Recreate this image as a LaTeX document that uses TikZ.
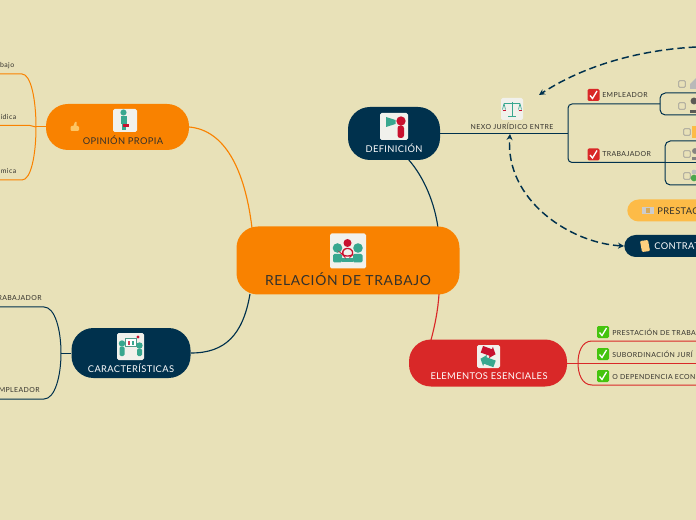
\documentclass[tikz,border=0pt]{standalone}
\usepackage{fontspec}
\setmainfont{Lato}
\usetikzlibrary{arrows.meta}
\definecolor{bgc}{HTML}{E8E1B8}
\definecolor{navy}{HTML}{00314D}
\definecolor{orng}{HTML}{F98200}
\definecolor{redc}{HTML}{D92828}
\definecolor{yelc}{HTML}{FDBB47}
\definecolor{txt}{HTML}{33312C}
\definecolor{teal1}{HTML}{38A78F}
\definecolor{crim}{HTML}{C8102E}
\definecolor{iconbg}{HTML}{F1F1EC}
\definecolor{grn}{HTML}{45C40E}
\tikzset{
  x=0.75pt,y=-0.75pt,
  topic/.style={rounded corners=#1,inner sep=0pt},
  lab/.style={font=\fontsize{7}{8}\selectfont\addfontfeature{LetterSpace=4},text=txt,inner sep=0pt},
  lab2/.style={font=\fontsize{5.2}{6}\selectfont\addfontfeature{LetterSpace=6},text=txt,inner sep=0pt},
  mainlab/.style={font=\fontsize{10.4}{12}\selectfont\addfontfeature{LetterSpace=5},text=txt,inner sep=0pt},
  link/.style={line width=0.85pt},
  sublink/.style={line width=0.75pt},
  iconbox/.style={fill=iconbg,rounded corners=1.2pt,draw=none},
  chk/.style={draw=txt!50,fill=bgc,line width=0.55pt,rounded corners=0.8pt},
  dashlink/.style={navy,line width=1.1pt,dash pattern=on 5.5pt off 3pt,{Stealth[length=4.5pt,width=4.5pt]}-{Stealth[length=4.5pt,width=4.5pt]}},
  dashone/.style={navy,line width=1.1pt,dash pattern=on 5.5pt off 3pt,-{Stealth[length=4.5pt,width=4.5pt]}},
}
\newcommand{\rtick}[2]{\fill[redc,rounded corners=1pt] (#1-6,#2-6) rectangle (#1+6,#2+6);
 \draw[white,line width=1pt] (#1-3.5,#2+0.5)--(#1-1,#2+3.5)--(#1+3.5,#2-4);}
\newcommand{\gtick}[2]{\fill[grn,rounded corners=1pt] (#1-6,#2-6) rectangle (#1+6,#2+6);
 \draw[white,line width=1pt] (#1-3.5,#2+0.5)--(#1-1,#2+3.5)--(#1+3.5,#2-4);}
\newcommand{\cbx}[2]{\draw[chk] (#1-3.3,#2-3.3) rectangle (#1+3.3,#2+3.3);}
\begin{document}
\begin{tikzpicture}
\useasboundingbox (0,0) rectangle (696,520);
\clip (0,0) rectangle (696,520);
\fill[bgc] (0,0) rectangle (696,520);

% named anchors
\coordinate (cL) at (252,228);
\coordinate (cLb) at (250,294);
\coordinate (cR) at (438,228);
\coordinate (cRb) at (439,294);
\coordinate (opR) at (189,127);
\coordinate (caR) at (191,353);
\coordinate (defB) at (408,159);
\coordinate (eleT) at (431,340);

% main links
\draw[link,orng] (opR) .. controls (225,130) and (245,170) .. (cL);
\draw[link,navy] (caR) .. controls (225,353) and (243,335) .. (cLb);
\draw[link,navy] (defB) .. controls (425,178) and (435,205) .. (cR);
\draw[link,redc] (eleT) .. controls (435,325) and (438,310) .. (cRb);

% nodes
\node[topic=16pt,fill=orng,minimum width=167.25pt,minimum height=51pt] (central) at (348,260.5) {};
\node[topic=16.5pt,fill=orng,minimum width=107.25pt,minimum height=34.5pt] (opinion) at (117.5,127) {};
\node[topic=16.5pt,fill=navy,minimum width=89.25pt,minimum height=37.5pt] (caract) at (131,353) {};
\node[topic=16.5pt,fill=navy,minimum width=69pt,minimum height=39.75pt] (defin) at (394,133.5) {};
\node[topic=16.5pt,fill=redc,minimum width=118.5pt,minimum height=35.25pt] (elem) at (488,363) {};
\node[topic=8.5pt,fill=yelc,minimum width=72pt,minimum height=16.5pt,anchor=west] (prest) at (627,210.5) {};
\node[topic=8.5pt,fill=navy,minimum width=72pt,minimum height=16.5pt,anchor=west] (contr) at (624,246) {};

% labels
\node[mainlab] at (348,279) {RELACIÓN DE TRABAJO};
\node[lab] at (123,140) {OPINIÓN PROPIA};
\node[lab,text=white] at (131,368) {CARACTERÍSTICAS};
\node[lab,text=white] at (394,148.5) {DEFINICIÓN};
\node[lab,text=white] at (489,376) {ELEMENTOS ESENCIALES};
\node[lab,anchor=west] at (657,211) {PRESTAC};
\node[lab,anchor=west,text=white] at (654,246) {CONTRAT};

% opinion bracket
\draw[sublink,orng] (opinion.west) -- (36,127);
\draw[sublink,orng] (0,74) -- (22,74) .. controls (31,74) and (36,100) .. (36,127) .. controls (36,155) and (31,180) .. (22,180) -- (0,180);
\draw[sublink,orng] (0,125.5) -- (30,125.5) -- (36,127);
\node[lab2,anchor=east] at (14.5,65.5) {bajo};
\node[lab2,anchor=east] at (16.5,116.5) {rídica};
\node[lab2,anchor=east] at (16.5,171.5) {mica};
% caract bracket
\draw[sublink,navy] (caract.west) -- (61,353);
\draw[sublink,navy] (0,307) -- (44,307) .. controls (55,307) and (61,330) .. (61,353) .. controls (61,376) and (55,399) .. (44,399) -- (0,399);
\node[lab2,anchor=east] at (42,298.5) {RABAJADOR};
\node[lab2,anchor=east] at (40,390.5) {MPLEADOR};

% definition branch
\draw[sublink,navy] (defin.east) -- (568,133.5);
\draw[sublink,navy,rounded corners=3pt] (660,104) -- (568,104) -- (568,162.5) -- (665,162.5);
\draw[sublink,navy,rounded corners=4pt] (696,93) -- (660,93) -- (660,115) -- (696,115);
\draw[sublink,navy,rounded corners=4pt] (696,141) -- (665,141) -- (665,185) -- (696,185);
\draw[sublink,navy] (665,162.5) -- (696,162.5);
\node[lab2] at (512,126.5) {NEXO JURÍDICO ENTRE};
\node[lab2,anchor=west] at (602,95.5) {EMPLEADOR};
\node[lab2,anchor=west] at (602,154.5) {TRABAJADOR};
\rtick{593.5}{95}
\rtick{593.5}{154.5}
\cbx{682}{84}\cbx{682}{106}\cbx{687}{132}\cbx{687}{154}\cbx{687}{176}

% small right icons
\fill[gray!55!white] (690,84) -- (696,78) -- (696,89) -- (690,89) -- cycle;
\fill[txt!80] (694,101) circle (2.6pt);
\fill[txt!80] (690,110) rectangle (696,113.5);
\fill[yelc] (692,126) rectangle (696,138);
\fill[txt!60] (695,151) circle (2.2pt);
\fill[txt!60] (692,157) rectangle (696,160);
\fill[green!50!black!70] (694,178) circle (2.5pt);
\fill[gray!50!white] (694,172) circle (1.8pt);

% dashed relations
\coordinate (nexT) at (539,95);
\coordinate (nexB) at (510,134);
\draw[dashone] (696,47) .. controls (640,50) and (585,65) .. (nexT);
\draw[dashlink] (contr.west) .. controls (570,243) and (505,200) .. (nexB);

% elementos branch
\draw[sublink,redc] (elem.east) -- (578,363);
\draw[sublink,redc] (696,341) -- (592,341) .. controls (582,341) and (578,352) .. (578,363) .. controls (578,374) and (582,385) .. (592,385) -- (696,385);
\draw[sublink,redc] (578,363) -- (696,363);
\gtick{603}{332}\gtick{603}{354}\gtick{603}{376}
\node[lab2,anchor=west] at (612,332.5) {PRESTACIÓN DE TRABA};
\node[lab2,anchor=west] at (612,354.5) {SUBORDINACIÓN JURÍ};
\node[lab2,anchor=west] at (612,376.5) {O DEPENDENCIA ECONÓ};

% central icon
\fill[iconbox] (330,233.5) rectangle (366,268.5);
\fill[teal1] (337.5,248) circle (3.6pt);
\fill[teal1] (358,248) circle (3.6pt);
\fill[teal1,rounded corners=1pt] (333,254) rectangle (342,262.5);
\fill[teal1,rounded corners=1pt] (353,254) rectangle (362.5,262.5);
\fill[teal1] (342,258) rectangle (353,262.5);
\fill[crim] (347.5,243) circle (3pt);
\draw[crim,line width=1pt,rounded corners=2pt] (342,254) -- (344,248.5) -- (351,248.5) -- (353.5,254) -- (351,256) -- (344,256) -- cycle;
% opinion icon
\fill[iconbox] (113,109) rectangle (137,132);
\fill[teal1] (123.5,112.5) circle (2.3pt);
\fill[teal1] (121,116) rectangle (127,124);
\fill[teal1] (122,124) rectangle (126,130);
\fill[crim] (123,124) rectangle (129,127.5);
% thumb
\fill[yelc!85!white,rounded corners=0.8pt] (70.5,126) rectangle (79,131);
\fill[yelc!85!white] (73,127) -- (75,122) -- (76.5,122) -- (76.5,127) -- cycle;
% definicion icon
\fill[iconbox] (380,113) rectangle (408,140);
\fill[teal1] (386,117) -- (386,127) -- (395.5,124) -- (395.5,120) -- cycle;
\fill[crim] (401,121) circle (3.5pt);
\fill[crim,rounded corners=2pt] (397.5,125.5) rectangle (404,138);
% scale icon
\fill[iconbox] (501,98) rectangle (523,120);
\draw[teal1,line width=0.7pt] (512,102) -- (512,116) (508,116.5) -- (516,116.5) (504,103.5) -- (520,103.5);
\draw[teal1,line width=0.5pt] (504,103.5) -- (502.5,109.5) (504,103.5) -- (505.5,109.5) (520,103.5) -- (518.5,109.5) (520,103.5) -- (521.5,109.5);
\draw[crim,line width=0.7pt] (502.5,110) -- (505.5,110) (518.5,110) -- (521.5,110);
% caract icon
\fill[iconbox] (117,333) rectangle (144,360);
\draw[teal1!70!gray,line width=0.4pt,fill=white] (125,338.5) rectangle (136,346.5);
\fill[teal1] (122,343.5) circle (2.4pt);
\fill[teal1,rounded corners=1pt] (119.5,346.5) rectangle (124.5,356);
\fill[teal1] (139.5,345.5) circle (2.4pt);
\fill[teal1,rounded corners=1pt] (137,348.5) rectangle (142,356);
\fill[crim] (138,337) circle (1.2pt);
\fill[crim!80] (128,341) rectangle (130,344.5);
\fill[teal1] (131.5,341) rectangle (133.5,344.5);
% elementos icon
\fill[iconbox] (477,345) rectangle (500,368);
\fill[crim,rotate around={-20:(488,351.5)}] (481.5,348) rectangle (491,355) (491,345.5) -- (496,351.5) -- (491,357.5) -- cycle;
\fill[teal1,rotate around={-20:(488,361.5)}] (485,358) rectangle (495,365) (485,355.5) -- (480,361.5) -- (485,367.5) -- cycle;
% prest, contr icons
\fill[gray!40!white] (642,207) rectangle (654,214);
\fill[yelc!70!gray] (646,208) rectangle (650,213);
\fill[yelc!70!white,rounded corners=0.8pt] (640,241) -- (648,240) -- (650,251) -- (642,252) -- cycle;
\end{tikzpicture}
\end{document}
